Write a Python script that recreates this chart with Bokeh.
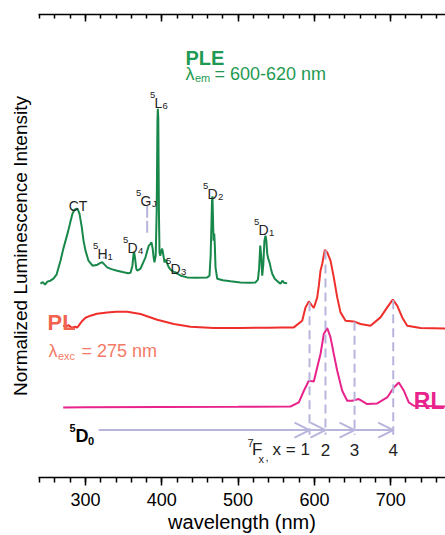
import numpy as np
from bokeh.plotting import figure
from bokeh.models import (Range1d, LinearAxis, SingleIntervalTicker, FixedTicker, Label,
                          Arrow, OpenHead, ColumnDataSource, CustomJSTickFormatter)
from bokeh.embed import file_html
from bokeh.resources import INLINE

# ---------------- data (plot units 0-100) ----------------
ple_wl = [241.0, 244, 247, 250, 254, 258, 262, 267.2, 271, 276.4, 280, 283, 286, 288.2, 290,
          292.1, 295, 297.4, 300, 303.9, 309.2, 315.7, 319, 321.9, 325, 328.4, 334, 341.5, 350,
          356, 359.0, 361.5, 363.0, 363.8, 365, 366.5, 367.8, 370, 372.1, 375, 378.6, 381,
          383.0, 385, 386.5, 388, 389.5, 390.4, 392.0, 393.3, 394.3, 394.8, 395.4, 396.2, 397.0,
          398, 399.5, 400.5, 401.5, 403.5, 405, 407.1, 409.2, 411, 413, 415.7, 418, 420.2, 425,
          433.3, 445, 459.5, 462.5, 464.0, 465.0, 465.8, 466.4, 467.0, 467.8, 468.7, 469.5,
          470.4, 472.6, 480, 490, 503.1, 515, 522.8, 526, 527.5, 529.0, 530.2, 531.6, 533,
          534.5, 535.9, 537, 538.2, 539.5, 541.2, 543, 544.7, 548, 553.3, 555.6, 558, 560, 564.3]
ple_int = [41.86, 42.19, 41.65, 42.30, 42.51, 42.94, 43.81, 46.83, 49.43, 52.67, 55.05, 57.00,
           57.86, 58.07, 57.86, 57.00, 54.20, 51.17, 49.00, 46.83, 45.75, 45.97, 46.30, 46.51,
           45.97, 45.39, 45.00, 44.67, 44.35, 44.13, 44.24, 45.75, 48.35, 48.63, 47.27, 45.11,
           44.67, 44.89, 45.11, 46.19, 47.55, 49.00, 50.08, 50.40, 50.79, 49.43, 47.27, 46.47,
           47.91, 57.64, 77.09, 79.62, 77.52, 57.64, 48.56, 47.91, 49.00, 49.43, 48.56, 46.47,
           47.05, 46.19, 45.39, 45.00, 44.67, 44.41, 44.35, 44.02, 43.59, 43.22, 43.16, 43.22,
           43.59, 47.91, 54.39, 59.80, 60.73, 56.56, 51.16, 52.67, 50.08, 45.39, 42.94, 42.62,
           42.40, 42.14, 42.08, 42.14, 42.73, 45.11, 50.08, 47.91, 43.59, 45.97, 51.16, 52.24,
           51.16, 48.28, 47.27, 46.47, 45.11, 44.02, 42.94, 42.14, 41.86, 42.51, 42.08, 41.93]

pl_wl = [270.8, 274, 278, 282, 286.5, 289.1, 292, 296, 300, 306.6, 315, 328.4, 340, 354.6,
         372.1, 394.0, 415.7, 437.6, 468.2, 503.1, 540, 555.6, 573.0, 584.0, 588.3, 592.7,
         599.2, 603.7, 605.8, 608.0, 610.2, 613.6, 616.8, 621.1, 625.4, 629.9, 634.2, 640.8,
         651.6, 660.4, 673.5, 686.6, 695.4, 702.7, 708.5, 715.1, 721.6, 739.1, 771.8]
pl_int = [32.79, 32.57, 32.89, 32.35, 32.57, 32.35, 33.00, 33.87, 34.51, 34.95, 35.38, 35.66,
          35.81, 35.81, 35.31, 34.08, 33.15, 32.57, 32.29, 32.29, 32.35, 32.42, 32.42, 33.87,
          36.74, 38.04, 36.61, 38.90, 41.43, 44.67, 46.12, 49.15, 48.63, 46.83, 43.22, 38.90,
          35.66, 33.87, 33.71, 33.15, 32.79, 34.58, 36.74, 38.41, 37.11, 34.58, 32.79, 32.29, 32.20]

rl_wl = [270.8, 300, 400, 500, 568.7, 579.6, 586.2, 592.7, 599.2, 605.8, 608.0, 612.3, 616.8,
         621.1, 625.4, 629.9, 636.4, 643.0, 649.5, 658.2, 669.2, 682.3, 695.4, 704.1, 710.6,
         717.2, 723.7, 730.3, 771.8]
rl_int = [15.13, 15.17, 15.24, 15.28, 15.34, 16.21, 18.74, 20.90, 20.75, 25.22, 26.67, 30.99,
          32.29, 30.26, 26.67, 23.06, 18.74, 16.58, 16.58, 16.94, 15.86, 15.99, 17.29, 19.45,
          20.53, 18.74, 16.21, 15.50, 15.34]

# 5D0 -> 7Fx transitions (nm)
trans_wl = [593.6, 614.5, 652.6, 703.3]
trans_labels = ["1", "2", "3", "4"]
arrow_level = 10.24
arrow_start = 317.4
gj_wl = 380.8

# ---------------- styles ----------------
FONT = "Liberation Sans"
GREEN = "#17884a"
GREEN_T = "#1f9a52"
RED = "#ef2f2c"
SALMON = "#f2644f"
SALMON2 = "#f47a66"
MAGENTA = "#e8238c"
LAV = "#b8b5dc"
DARK = "#222222"

p = figure(width=445, height=535, x_range=Range1d(238.4, 771.8), y_range=Range1d(0, 100),
           output_backend="svg", toolbar_location=None,
           min_border_left=38, min_border_right=0, min_border_top=14, min_border_bottom=58)
p.outline_line_color = None
p.grid.visible = False
p.background_fill_color = "white"
p.border_fill_color = "white"

xa = p.xaxis[0]
xa.ticker = SingleIntervalTicker(interval=100, num_minor_ticks=5)
xa.axis_label = "wavelength (nm)"
xa.axis_label_text_font = FONT
xa.axis_label_text_font_style = "normal"
xa.axis_label_text_font_size = "20px"
xa.axis_label_text_color = "black"
xa.axis_label_standoff = 2
xa.major_label_text_font = FONT
xa.major_label_text_font_size = "18px"
xa.major_label_text_color = "black"
xa.major_label_standoff = 7
xa.major_tick_out = 8
xa.major_tick_in = 0
xa.minor_tick_out = 5
xa.minor_tick_in = 0
xa.axis_line_width = 1.5
xa.major_tick_line_width = 1.5
xa.minor_tick_line_width = 1.5
xa.axis_line_color = "black"

ya = p.yaxis[0]
ya.ticker = FixedTicker(ticks=[])
ya.axis_label = "Normalized Luminescence Intensity"
ya.axis_label_text_font = FONT
ya.axis_label_text_font_style = "normal"
ya.axis_label_text_font_size = "19px"
ya.axis_label_text_color = "black"
ya.axis_label_standoff = 8
ya.axis_line_color = None
ya.major_tick_line_color = None
ya.minor_tick_line_color = None
ya.major_label_standoff = 0

top = LinearAxis(ticker=SingleIntervalTicker(interval=100, num_minor_ticks=5),
                 formatter=CustomJSTickFormatter(code="return '';"))
top.major_label_standoff = 0
top.major_tick_in = 7
top.major_tick_out = 0
top.minor_tick_in = 4
top.minor_tick_out = 0
top.axis_line_width = 1.5
top.major_tick_line_width = 1.5
top.minor_tick_line_width = 1.5
p.add_layout(top, "above")

# ---------------- curves ----------------
p.line(ple_wl, ple_int, line_color=GREEN, line_width=2)
p.line(pl_wl, pl_int, line_color=RED, line_width=2)
p.line(rl_wl, rl_int, line_color=MAGENTA, line_width=2)

# dashed transition lines from PL curve down to the arrow
tops = np.interp(trans_wl, pl_wl, pl_int)
p.segment(x0=trans_wl, y0=list(tops), x1=trans_wl, y1=[arrow_level - 1.0] * len(trans_wl),
          line_color=LAV, line_width=2, line_dash="9 5")
# 5GJ marker
p.segment(x0=[gj_wl], y0=[58.68], x1=[gj_wl], y1=[52.62], line_color=LAV, line_width=2,
          line_dash="12 3")
p.segment(x0=[324.0], y0=[47.7], x1=[324.0], y1=[47.3], line_color=LAV, line_width=2)

# arrows 5D0 -> 7Fx
starts = [arrow_start] + trans_wl[:-1]
asrc = ColumnDataSource(dict(x0=starts, x1=trans_wl, y=[arrow_level] * len(trans_wl)))
p.add_layout(Arrow(end=OpenHead(size=15, line_color=LAV, line_width=2),
                   x_start="x0", y_start="y", x_end="x1", y_end="y", source=asrc,
                   line_color=LAV, line_width=2))

# ---------------- text ----------------
def X(px):
    return 300 + (px - 85) * 1.3106

def Y(py):
    return (476.7 - py) / 4.627

def lab(px, py, text, size, color=DARK, style="normal", align="left"):
    p.add_layout(Label(x=X(px), y=Y(py), text=text, text_font=FONT, text_font_size=size,
                       text_color=color, text_font_style=style, text_align=align,
                       text_baseline="alphabetic"))

lab(185, 57, "PLE", "20px", GREEN_T, "bold")
lab(185, 73.5, "λ", "18px", GREEN_T)
lab(194.5, 77, "em", "11px", GREEN_T)
lab(214, 73.5, "= 600-620 nm", "18px", GREEN_T)

lab(47, 322, "PL", "22px", SALMON, "bold")
lab(48, 350.5, "λ", "18px", SALMON2)
lab(57.5, 355, "exc", "11px", SALMON2)
lab(81, 350.5, "= 275 nm", "18px", SALMON2)

lab(444, 400, "RL", "23px", MAGENTA, "bold", align="right")

lab(77.5, 205, "CT", "14px", DARK, align="center")

def term(px, py, sup, main, sub, mw):
    lab(px, py - 8, sup, "9.5px")
    lab(px + 4.5, py, main, "14px")
    lab(px + 4.5 + mw, py + 3, sub, "9.5px")

term(92.5, 253, "5", "H", "1", 10)
term(122.5, 247, "5", "D", "4", 10.5)
term(135.5, 200, "5", "G", "J", 11.5)
term(149.5, 102, "5", "L", "6", 8)
term(165.5, 268, "5", "D", "3", 10.5)
term(202.5, 193, "5", "D", "2", 10.5)
term(253.5, 229, "5", "D", "1", 10.5)

lab(69, 427, "5", "11px", "black", "bold")
lab(75, 435.5, "D", "18px", "black", "bold")
lab(87.5, 440, "0", "11px", "black", "bold")

lab(247, 442, "7", "11px", DARK)
lab(251.5, 449, "F", "17px", DARK)
lab(258, 458, "x", "11px", DARK)
lab(265, 456, ",", "11px", DARK)
lab(272, 449, "x = 1", "17px", DARK)
for w, t in zip(trans_wl[1:], trans_labels[1:]):
    p.add_layout(Label(x=w, y=Y(449), text=t, text_font=FONT, text_font_size="17px",
                       text_color=DARK, text_align="center", text_baseline="alphabetic"))

open("out.html", "w").write(file_html(p, INLINE))
